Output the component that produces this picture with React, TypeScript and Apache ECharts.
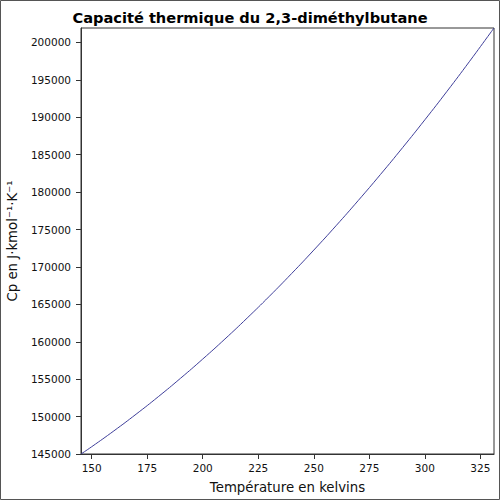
import React, { useEffect, useRef } from "react";
import * as echarts from "echarts";

// temperature (K) and Cp (J/kmol/K)
const temperatures = [
  145.19, 150, 160, 170, 180, 190, 200, 210, 220, 230, 240, 250, 260, 270,
  280, 290, 300, 310, 320, 330, 331.13,
];
const cpValues = [
  145000, 145970, 148090, 150320, 152660, 155120, 157690, 160370, 163170,
  166080, 169110, 172250, 175500, 178870, 182350, 185950, 189660, 193480,
  197420, 201470, 201930,
];
const xTicks = [150, 175, 200, 225, 250, 275, 300, 325];
const yTicks = [
  145000, 150000, 155000, 160000, 165000, 170000, 175000, 180000, 185000,
  190000, 195000, 200000,
];

const FONT = "DejaVu Sans";

const App: React.FC = () => {
  const chartRef = useRef<HTMLDivElement>(null);

  useEffect(() => {
    if (!chartRef.current) return;
    const chart = echarts.init(chartRef.current, undefined, { renderer: "svg" });

    const option: echarts.EChartsOption = {
      animation: false,
      backgroundColor: "#ffffff",
      textStyle: { fontFamily: FONT },
      title: {
        text: "Capacité thermique du 2,3-diméthylbutane",
        left: "center",
        top: 5,
        textStyle: { fontFamily: FONT, fontSize: 14.6, fontWeight: "bold", color: "#000" },
      },
      graphic: [
        {
          type: "rect",
          shape: { x: 0.5, y: 0.5, width: 499, height: 499 },
          style: { fill: "none", stroke: "#555", lineWidth: 1 },
          silent: true,
        },
      ],
      grid: {
        left: 81,
        top: 28,
        right: 6,
        bottom: 46,
        outerBoundsMode: "none",
        show: true,
        borderColor: "#333",
        borderWidth: 1,
        backgroundColor: "transparent",
      } as any,
      xAxis: {
        type: "value",
        min: 145.19,
        max: 331.13,
        name: "Température en kelvins",
        nameLocation: "middle",
        nameGap: 27,
        nameTextStyle: { fontFamily: FONT, fontSize: 13.3, color: "#111" },
        axisLine: { show: true, lineStyle: { color: "#333" } },
        axisTick: {
          show: true,
          length: 5,
          lineStyle: { color: "#333" },
          customValues: xTicks,
        },
        axisLabel: {
          fontFamily: FONT,
          fontSize: 10.5,
          color: "#111",
          margin: 8,
          customValues: xTicks,
        },
        splitLine: { show: false },
      },
      yAxis: {
        type: "value",
        min: 145000,
        max: 201930,
        name: "Cp en J·kmol⁻¹·K⁻¹",
        nameLocation: "middle",
        nameGap: 62,
        nameTextStyle: { fontFamily: FONT, fontSize: 13.3, color: "#111" },
        axisLine: { show: true, lineStyle: { color: "#333" } },
        axisTick: {
          show: true,
          length: 5,
          lineStyle: { color: "#333" },
          customValues: yTicks,
        },
        axisLabel: {
          fontFamily: FONT,
          fontSize: 10.5,
          color: "#111",
          margin: 10,
          customValues: yTicks,
          formatter: (v: number) => String(v),
        },
        splitLine: { show: false },
      },
      series: [
        {
          type: "line",
          data: temperatures.map((t, i) => [t, cpValues[i]]),
          showSymbol: false,
          smooth: true,
          lineStyle: { color: "#3f3f9a", width: 1 },
        },
      ],
    };

    chart.setOption(option);
    return () => {
      chart.dispose();
    };
  }, []);

  return (
    <div
      ref={chartRef}
      style={{ position: "fixed", left: 0, top: 0, width: 500, height: 500 }}
    />
  );
};

export default App;
